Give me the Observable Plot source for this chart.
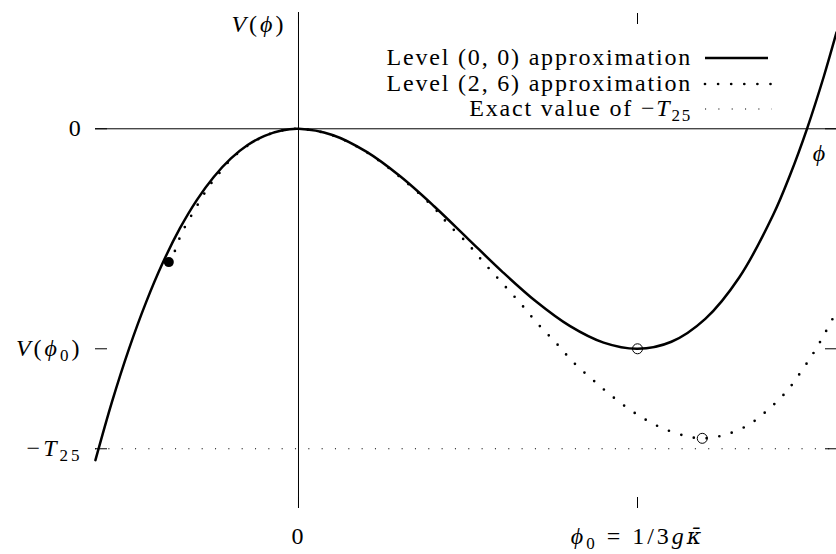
<!DOCTYPE html>
<html><head><meta charset="utf-8">
<script src="https://cdn.jsdelivr.net/npm/d3@7"></script>
<script src="https://cdn.jsdelivr.net/npm/@observablehq/plot@0.6"></script>
<style>
body{margin:0;background:#fff;}
svg text{font-family:"Liberation Serif",serif; letter-spacing:1.8px;}
</style></head><body><div id="chart"></div>
<script>
// Level (0,0) approximation (phi in units of phi0, V in units of |V(phi0)|)
const level00Phi = [-0.599,-0.55,-0.5,-0.45,-0.4,-0.35,-0.3,-0.25,-0.2,-0.15,-0.1,-0.05,0,0.1,0.2,0.3,0.4,0.5,0.6,0.7,0.8,0.9,1.0,1.1,1.2,1.3,1.4,1.45,1.5,1.55,1.587];
const level00V   = [-1.506,-1.240,-1.000,-0.790,-0.608,-0.453,-0.324,-0.219,-0.136,-0.074,-0.032,-0.008,0,-0.028,-0.104,-0.216,-0.352,-0.500,-0.648,-0.784,-0.896,-0.972,-1.000,-0.968,-0.864,-0.676,-0.392,-0.210,0.000,0.240,0.438];
// Level (2,6) approximation
const level26Phi = [-0.3826,-0.3708,-0.3569,-0.3422,-0.3245,-0.3038,-0.2832,-0.2625,-0.2389,-0.2,-0.15,-0.1,-0.05,0,0.1,0.2,0.3,0.4,0.4425,0.4985,0.5487,0.6018,0.6549,0.705,0.7581,0.8112,0.8702,0.9292,0.9941,1.062,1.136,1.191,1.251,1.324,1.386,1.442,1.487,1.522,1.549,1.587];
const level26V   = [-0.606,-0.579,-0.521,-0.467,-0.417,-0.362,-0.308,-0.258,-0.212,-0.140,-0.077,-0.033,-0.008,0,-0.029,-0.106,-0.220,-0.360,-0.435,-0.521,-0.612,-0.703,-0.794,-0.885,-0.971,-1.062,-1.144,-1.221,-1.294,-1.353,-1.394,-1.407,-1.394,-1.349,-1.276,-1.190,-1.094,-1.012,-0.940,-0.830];
const exactT25 = -1.4545;
const branchPhi = [-0.3826], branchV = [-0.606];
const minimaPhi = [1.0, 1.191], minimaV = [-1.0, -1.407];
const xTickValues = [0, 1];
const xTickLabels = ["0", "*ϕ*_0 = 1/3*gκ̄*"];
const yTickValues = [0, -1, -1.4545];
const yTickLabels = ["0", "*V*(*ϕ*_0)", "−*T*_25"];
const axisLabelY = "*V*(*ϕ*)";
const axisLabelX = "*ϕ*";
const legendLabels = ["Level (0, 0) approximation", "Level (2, 6) approximation", "Exact value of −*T*_25"];

const level00 = level00Phi.map((p, i) => ({phi: p, V: level00V[i]}));
const level26 = level26Phi.map((p, i) => ({phi: p, V: level26V[i]}));
const branch = branchPhi.map((p, i) => ({phi: p, V: branchV[i]}));
const minima = minimaPhi.map((p, i) => ({phi: p, V: minimaV[i]}));

const FS = 24;
const chart = Plot.plot({
  width: 836, height: 554,
  marginLeft: 95, marginRight: 0, marginTop: 12, marginBottom: 46,
  x: {domain: [-0.5988, 1.587]},
  y: {domain: [-1.726, 0.5286]},
  style: {fontFamily: "Liberation Serif", fontSize: FS + "px", color: "black", background: "white", overflow: "visible"},
  marks: [
    Plot.ruleY([0], {stroke: "black", strokeWidth: 1}),
    Plot.ruleX([0], {stroke: "black", strokeWidth: 1}),
    Plot.ruleY([exactT25], {stroke: "black", strokeWidth: 1.1, strokeDasharray: "1.1 12.23"}),
    // inward ticks
    Plot.axisY({anchor: "left", ticks: yTickValues, tickSize: 12, dx: 12, tickFormat: () => "", label: null}),
    Plot.axisY({anchor: "right", ticks: yTickValues, tickSize: 12, dx: -12, tickFormat: () => "", label: null}),
    Plot.axisX({anchor: "top", ticks: xTickValues, tickSize: 11, dy: 11, tickFormat: () => "", label: null}),
    Plot.axisX({anchor: "bottom", ticks: xTickValues, tickSize: 0 + 11, dy: -11, tickFormat: () => "", label: null}),
    // tick labels
    Plot.axisY({anchor: "left", ticks: yTickValues, tickSize: 0, tickPadding: 13, fontSize: FS, tickFormat: d => yTickLabels[yTickValues.indexOf(d)], label: null}),
    Plot.axisX({anchor: "bottom", ticks: xTickValues, tickSize: 0, tickPadding: 18, fontSize: FS, tickFormat: d => xTickLabels[xTickValues.indexOf(d)], label: null}),
    Plot.text([axisLabelY], {x: xTickValues[0], frameAnchor: "top", textAnchor: "end", lineAnchor: "bottom", dx: -12, dy: 19, fontSize: FS}),
    Plot.text([axisLabelX], {y: yTickValues[0], frameAnchor: "right", textAnchor: "middle", lineAnchor: "bottom", dx: -16, dy: 32, fontSize: FS}),
    // curves
    Plot.line(level00, {x: "phi", y: "V", stroke: "black", strokeWidth: 2.5, curve: "catmull-rom"}),
    Plot.line(level26, {x: "phi", y: "V", stroke: "black", strokeWidth: 2.7, strokeDasharray: "0 12.9", strokeLinecap: "round", curve: "catmull-rom"}),
    Plot.dot(branch, {x: "phi", y: "V", r: 5, fill: "black", stroke: null}),
    Plot.dot(minima, {x: "phi", y: "V", r: 5, fill: "none", stroke: "black", strokeWidth: 1})
  ]
});
document.getElementById("chart").appendChild(chart);

// legend
const svg = d3.select(chart);
const leg = svg.append("g").attr("font-size", FS).attr("font-family", "Liberation Serif");
const rowY = [58, 84, 109];
legendLabels.forEach((t, i) => {
  leg.append("text").attr("x", 692).attr("y", rowY[i] + 7).attr("text-anchor", "end").text(t);
});
leg.append("line").attr("x1", 705).attr("x2", 768).attr("y1", rowY[0]).attr("y2", rowY[0]).attr("stroke", "black").attr("stroke-width", 2.5);
leg.append("line").attr("x1", 705).attr("x2", 772).attr("y1", rowY[1]).attr("y2", rowY[1]).attr("stroke", "black").attr("stroke-width", 2.7).attr("stroke-dasharray", "0 13.1").attr("stroke-linecap", "round");
leg.append("line").attr("x1", 705).attr("x2", 772).attr("y1", rowY[2]).attr("y2", rowY[2]).attr("stroke", "black").attr("stroke-width", 1.1).attr("stroke-dasharray", "1.1 12.23");

// math markup: *italic*, _subscript, combining macron
const NS = "http://www.w3.org/2000/svg";
function addSpan(el, txt, attrs) {
  const t = document.createElementNS(NS, "tspan");
  t.textContent = txt;
  for (const k in attrs) t.setAttribute(k, attrs[k]);
  el.appendChild(t);
  return t;
}
chart.querySelectorAll("text").forEach(el => {
  const s = el.textContent;
  if (!/[*_]/.test(s)) return;
  el.textContent = "";
  if (!/ /.test(s.replace(" = ", ""))) el.style.letterSpacing = "3px";
  const re = /\*([^*]+)\*|_(\d+)|([^*_]+)/g;
  let m, shift = 0;
  while ((m = re.exec(s))) {
    if (m[2]) {
      addSpan(el, m[2], {"font-size": Math.round(FS * 0.72), dy: 5 - shift});
      shift = 5;
    } else {
      const italic = !!m[1];
      const parts = (m[1] || m[3]).split(/(.\u0304)/).filter(p => p);
      parts.forEach(p => {
        const base = {};
        if (italic) base["font-style"] = "italic";
        if (shift) { base.dy = -shift; shift = 0; }
        if (p.length === 2 && p[1] === "\u0304") {
          base["font-family"] = "DejaVu Serif";
          base["font-size"] = Math.round(FS * 0.9);
        }
        addSpan(el, p, base);
      });
    }
  }
});
</script></body></html>
